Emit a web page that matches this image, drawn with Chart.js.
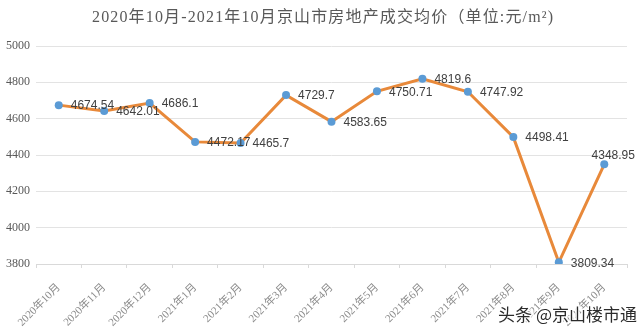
<!DOCTYPE html>
<html>
<head>
<meta charset="utf-8">
<script src="https://cdn.jsdelivr.net/npm/chart.js@4/dist/chart.umd.min.js"></script>
<style>
  html, body { margin: 0; padding: 0; background: #ffffff; }
  #wrap { width: 640px; height: 333px; }
</style>
</head>
<body>
<div id="wrap"><canvas id="c" width="640" height="333"></canvas></div>
<script>
const titleText = '2020年10月-2021年10月京山市房地产成交均价（单位:元/m²)';
const categories = ['2020年10月', '2020年11月', '2020年12月', '2021年1月', '2021年2月', '2021年3月', '2021年4月', '2021年5月', '2021年6月', '2021年7月', '2021年8月', '2021年9月', '2021年10月'];
const prices = [4674.54, 4642.01, 4686.1, 4472.17, 4465.7, 4729.7, 4583.65, 4750.71, 4819.6, 4747.92, 4498.41, 3809.34, 4348.95];
const priceLabels = ['4674.54', '4642.01', '4686.1', '4472.17', '4465.7', '4729.7', '4583.65', '4750.71', '4819.6', '4747.92', '4498.41', '3809.34', '4348.95'];
const yMin = 3800;
const yMax = 5000;
const yStep = 200;
const sourceText = '头条 @京山楼市通';

const SERIF = '"Liberation Serif", "DejaVu Serif", "Noto Sans CJK SC", serif';

const decorPlugin = {
  id: 'decor',
  afterDraw(chart) {
    const ctx = chart.ctx;
    // title
    ctx.save();
    ctx.font = '16px ' + SERIF;
    ctx.fillStyle = '#595959';
    ctx.textBaseline = 'middle';
    ctx.textAlign = 'left';
    const targetW = 461;
    const n = Array.from(titleText).length;
    ctx.letterSpacing = '0px';
    const w0 = ctx.measureText(titleText).width;
    const ls = Math.max(0, (targetW - w0) / (n - 1));
    ctx.letterSpacing = ls.toFixed(2) + 'px';
    ctx.fillText(titleText, 92, 18);
    ctx.restore();

    // source mark
    ctx.save();
    ctx.font = '17px "Noto Sans CJK SC", sans-serif';
    ctx.textAlign = 'right';
    ctx.textBaseline = 'middle';
    ctx.lineWidth = 3;
    ctx.strokeStyle = 'rgba(255,255,255,0.9)';
    ctx.strokeText(sourceText, 637, 315);
    ctx.fillStyle = '#2b2b2b';
    ctx.fillText(sourceText, 637, 315);
    ctx.restore();
  },
  afterDatasetsDraw(chart) {
    const ctx = chart.ctx;
    const meta = chart.getDatasetMeta(0);
    ctx.save();
    ctx.font = '12px "Liberation Sans", Arial, sans-serif';
    ctx.fillStyle = '#404040';
    ctx.textBaseline = 'middle';
    meta.data.forEach((pt, i) => {
      const last = i === meta.data.length - 1;
      if (last) {
        ctx.textAlign = 'center';
        ctx.fillText(priceLabels[i], pt.x + 9, pt.y - 9);
      } else {
        ctx.textAlign = 'left';
        ctx.fillText(priceLabels[i], pt.x + 12, pt.y + 1);
      }
    });
    ctx.restore();
  }
};

new Chart(document.getElementById('c'), {
  type: 'line',
  data: {
    labels: categories,
    datasets: [{
      data: prices,
      borderColor: '#E8893A',
      borderWidth: 3,
      pointBackgroundColor: '#5B9BD5',
      pointBorderColor: '#5B9BD5',
      pointBorderWidth: 0,
      pointRadius: 4,
      tension: 0,
      fill: false
    }]
  },
  options: {
    responsive: false,
    animation: false,
    devicePixelRatio: 1,
    layout: { padding: { left: 0, right: 13, top: 46, bottom: 0 } },
    plugins: {
      legend: { display: false },
      tooltip: { enabled: false },
      title: { display: false }
    },
    scales: {
      x: {
        type: 'category',
        offset: true,
        grid: { drawOnChartArea: false, drawTicks: true, tickLength: 4, color: '#d9d9d9', offset: true },
        border: { display: true, color: '#d9d9d9' },
        ticks: {
          autoSkip: false,
          maxRotation: 45,
          minRotation: 45,
          padding: 13,
          color: '#8c8c8c',
          font: { family: SERIF, size: 11 }
        },
        afterFit(scale) { scale.height = 69; }
      },
      y: {
        min: yMin,
        max: yMax,
        grid: { color: '#e3e3e3', drawTicks: false },
        border: { display: false },
        ticks: {
          stepSize: yStep,
          padding: 6,
          color: '#595959',
          font: { family: SERIF, size: 12 },
          callback: (v) => String(v)
        },
        afterFit(scale) { scale.width = 36; }
      }
    }
  },
  plugins: [decorPlugin]
});
</script>
</body>
</html>
